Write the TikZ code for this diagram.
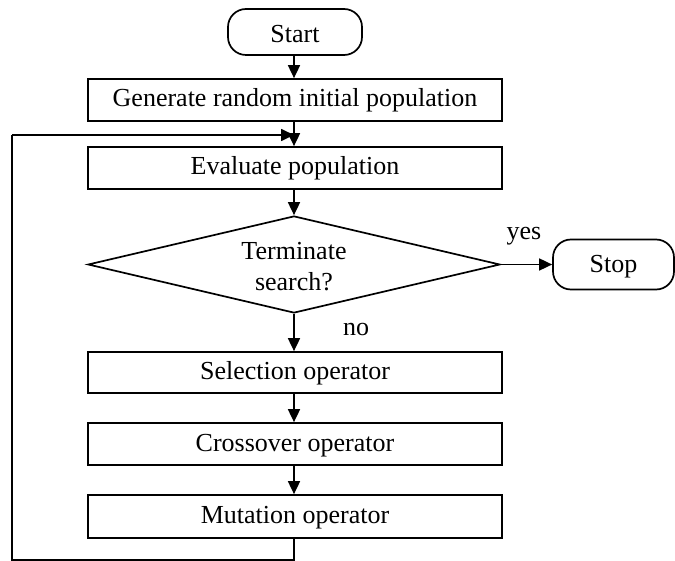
\documentclass[tikz,border=0pt]{standalone}
\usepackage{fontspec}
\setmainfont{Liberation Serif}
\usetikzlibrary{shapes.geometric,arrows.meta}
\begin{document}
\begin{tikzpicture}[x=1pt,y=-1pt,
  every node/.style={font=\fontsize{26}{31}\selectfont},
  procbox/.style={draw,line width=1.7pt,minimum width=414pt,minimum height=42pt,inner sep=0pt,text height=19pt,text depth=5pt},
  termbox/.style={draw,line width=1.7pt,rounded corners=18pt,inner sep=0pt},
  decbox/.style={draw,line width=1.7pt,diamond,shape aspect=4.25,minimum width=412pt,minimum height=97pt,inner sep=0pt,align=center},
  conn/.style={line width=1.7pt,-{Triangle[length=13pt,width=12pt]}},
  plainline/.style={line width=1.7pt}]
\useasboundingbox (0,0) rectangle (675,561);
\node[termbox,minimum width=134pt,minimum height=46pt,text height=24pt,text depth=2pt] (start) at (295,32) {Start};
\node[procbox] (gen) at (295,100) {Generate random initial population};
\node[procbox] (eval) at (295,168) {Evaluate population};
\node[decbox] (dec) at (294,264.5) {\rule{0pt}{22pt}Terminate\\search?};
\node[termbox,minimum width=121pt,minimum height=50pt,text height=20pt,text depth=3pt] (stop) at (613.5,264.5) {Stop};
\node[procbox,minimum height=41pt] (sel) at (295,372.5) {Selection operator};
\node[procbox] (cross) at (295,444) {Crossover operator};
\node[procbox,minimum height=43pt] (mut) at (295,516.5) {Mutation operator};
\node (yes) at (524,236) {yes};
\node (no) at (356,330) {no};
\coordinate (join) at (294,135);
\coordinate (lb) at (12,560);
\coordinate (lt) at (12,135);
\draw[conn] (start.south -| join) -- (gen.north -| join);
\draw[conn] (gen.south -| join) -- (eval.north -| join);
\draw[conn] (eval.south -| join) -- (dec.north);
\draw[conn] (dec.east) -- (stop.west);
\draw[conn] (dec.south) -- (sel.north -| join);
\draw[conn] (sel.south -| join) -- (cross.north -| join);
\draw[conn] (cross.south -| join) -- (mut.north -| join);
\draw[plainline] (mut.south -| join) -- (join |- lb) -- (lb) -- (lt);
\draw[conn] (lt) -- (join);
\end{tikzpicture}
\end{document}
